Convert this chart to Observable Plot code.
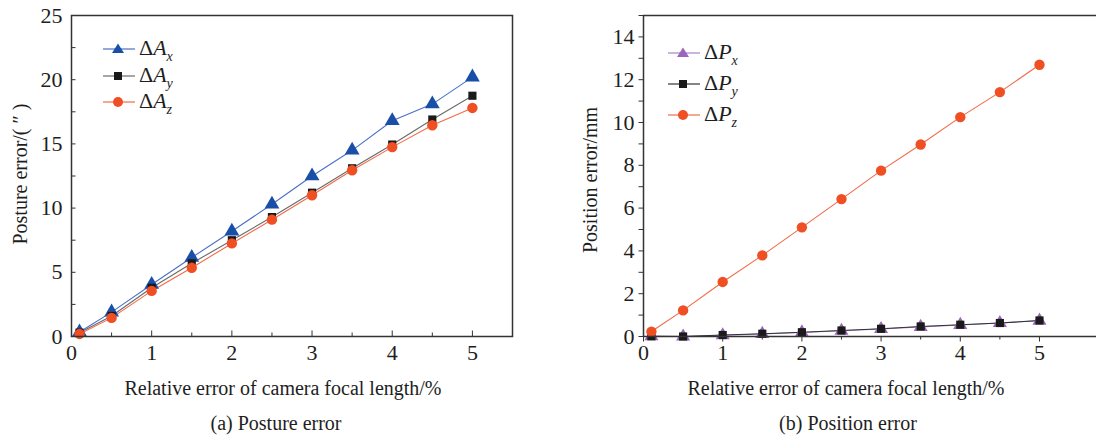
<!DOCTYPE html>
<html><head><meta charset="utf-8">
<script src="https://cdn.jsdelivr.net/npm/d3@7"></script>
<script src="https://cdn.jsdelivr.net/npm/@observablehq/plot@0.6"></script>
<style>
body{margin:0;background:#fff;width:1096px;height:439px;overflow:hidden;position:relative;font-family:"Times New Roman","Liberation Serif","DejaVu Serif",serif;color:#1e1e1e}
.chart{position:absolute;top:0}
.lbl{position:absolute;font-size:20px;white-space:nowrap;transform:translate(-50%,-50%)}
.ylbl{position:absolute;font-size:20px;white-space:nowrap;transform:translate(-50%,-50%) rotate(-90deg)}
.leg{position:absolute;font-size:22px;line-height:1}
.leg .row{position:absolute;white-space:nowrap;height:26px}
.leg svg{position:absolute;left:0;top:0;overflow:visible}
.leg span{position:absolute;top:-12px}
.leg sub{font-size:14px;vertical-align:-6px;font-style:italic}
</style>
</head><body>
<div id="left" class="chart" style="left:0"></div>
<div id="right" class="chart" style="left:548px"></div>
<script>
// ---- data ----
const focal = [0.1, 0.5, 1, 1.5, 2, 2.5, 3, 3.5, 4, 4.5, 5];
const dAx = [0.35, 1.9, 4.05, 6.15, 8.2, 10.3, 12.5, 14.5, 16.8, 18.1, 20.2];
const dAy = [0.3, 1.6, 3.8, 5.7, 7.5, 9.3, 11.2, 13.1, 14.95, 16.9, 18.75];
const dAz = [0.2, 1.45, 3.55, 5.35, 7.25, 9.1, 11.0, 12.95, 14.75, 16.45, 17.8];
const dPx = [0.01, 0.0, 0.06, 0.12, 0.19, 0.27, 0.35, 0.45, 0.54, 0.63, 0.74];
const dPy = [0.01, 0.0, 0.07, 0.13, 0.2, 0.28, 0.36, 0.47, 0.55, 0.63, 0.75];
const dPz = [0.23, 1.22, 2.55, 3.79, 5.1, 6.42, 7.75, 8.97, 10.25, 11.42, 12.7];
const leftSeries = [
  {name: "x", values: dAx, symbol: "triangle", fill: "#1a4fa8", stroke: "#4a6fc8", r: 5.5},
  {name: "y", values: dAy, symbol: "square", fill: "#1a1a1a", stroke: "#6a6a6a", r: 4.6},
  {name: "z", values: dAz, symbol: "circle", fill: "#f04e23", stroke: "#f26a48", r: 5.2}
];
const rightSeries = [
  {name: "x", values: dPx, symbol: "triangle", fill: "#9a66bb", stroke: "#a883cc", r: 5.2},
  {name: "y", values: dPy, symbol: "square", fill: "#1a1a1a", stroke: "#333333", r: 4.6},
  {name: "z", values: dPz, symbol: "circle", fill: "#f04e23", stroke: "#f26a48", r: 5.2}
];
const leftYTicks = [0, 5, 10, 15, 20, 25];
const rightYTicks = [0, 2, 4, 6, 8, 10, 12, 14];
const xTicks = [0, 1, 2, 3, 4, 5];
const xHalfTicks = [0.5, 1.5, 2.5, 3.5, 4.5];

function seriesMarks(series) {
  const marks = [];
  for (const s of series) {
    const d = focal.map((f, i) => ({x: f, y: s.values[i]}));
    marks.push(Plot.line(d, {x: "x", y: "y", stroke: s.stroke, strokeWidth: 1.1}));
  }
  for (const s of series) {
    const d = focal.map((f, i) => ({x: f, y: s.values[i]}));
    marks.push(Plot.dot(d, {x: "x", y: "y", symbol: () => s.symbol, fill: s.fill, r: s.r, stroke: "none"}));
  }
  return marks;
}
const fmt = d => String(d);
const none = () => "";
const style = {fontFamily: "Times New Roman, Liberation Serif, DejaVu Serif, serif", fontSize: "22px", color: "#1e1e1e", background: "transparent", overflow: "visible"};

const left = Plot.plot({
  width: 548, height: 439,
  marginLeft: 71, marginRight: 36, marginTop: 15, marginBottom: 103,
  style,
  x: {domain: [0, 5.5]},
  y: {domain: [0, 25]},
  symbol: {type: "identity"},
  marks: [
    Plot.axisY({ticks: leftYTicks, tickFormat: fmt, tickSize: 0, tickPadding: 9, label: null}),
    Plot.axisY({ticks: d3.range(0, 25.01, 2.5), tickSize: -4.5, tickFormat: none, label: null, stroke: "#333"}),
    Plot.axisX({ticks: xTicks, tickFormat: fmt, tickSize: 0, tickPadding: 8, label: null}),
    Plot.axisX({ticks: xTicks, tickSize: -5.5, tickFormat: none, label: null, stroke: "#333"}),
    Plot.axisX({ticks: xHalfTicks, tickSize: -3.5, tickFormat: none, label: null, stroke: "#333"}),
    ...seriesMarks(leftSeries),
    Plot.frame({stroke: "#333", strokeWidth: 1.5})
  ]
});
document.getElementById("left").appendChild(left);

const right = Plot.plot({
  width: 548, height: 439,
  marginLeft: 95, marginRight: 0, marginTop: 15, marginBottom: 103,
  style,
  x: {domain: [0, 5.72]},
  y: {domain: [0, 15]},
  symbol: {type: "identity"},
  marks: [
    Plot.axisY({ticks: rightYTicks, tickFormat: fmt, tickSize: 0, tickPadding: 9, label: null}),
    Plot.axisY({ticks: d3.range(0, 15.01, 1), tickSize: 4.5, tickFormat: none, label: null, stroke: "#333"}),
    Plot.axisX({ticks: xTicks, tickFormat: fmt, tickSize: 0, tickPadding: 8, label: null}),
    Plot.axisX({ticks: xTicks, tickSize: 5.5, tickFormat: none, label: null, stroke: "#333"}),
    Plot.axisX({ticks: xHalfTicks, tickSize: 3.5, tickFormat: none, label: null, stroke: "#333"}),
    ...seriesMarks(rightSeries),
    Plot.ruleX([0], {stroke: "#333", strokeWidth: 1.5}),
    Plot.ruleY([0, 15], {stroke: "#333", strokeWidth: 1.5})
  ]
});
document.getElementById("right").appendChild(right);

// ---- text labels ----
function addText(cls, html, x, y) {
  const d = document.createElement("div");
  d.className = cls; d.innerHTML = html;
  d.style.left = x + "px"; d.style.top = y + "px";
  document.body.appendChild(d);
}
addText("lbl", "Relative error of camera focal length/%", 283, 388);
addText("lbl", "(a) Posture error", 276, 423);
addText("lbl", "Relative error of camera focal length/%", 846, 388);
addText("lbl", "(b) Position error", 848, 423);
addText("ylbl", "Posture error/( \u2033 )", 20, 174);
addText("ylbl", "Position error/mm", 590, 180);

// ---- legends ----
function legend(series, letter, x0, ys) {
  const box = document.createElement("div");
  box.className = "leg"; box.style.left = x0 + "px"; box.style.top = "0px";
  series.forEach((s, i) => {
    const row = document.createElement("div");
    row.className = "row"; row.style.left = "0px"; row.style.top = ys[i] + "px";
    const sym = s.symbol === "triangle"
      ? `<path d="M15,-5.5 L21,4 L9,4 Z" fill="${s.fill}"/>`
      : s.symbol === "square"
      ? `<rect x="11" y="-4" width="8" height="8" fill="${s.fill}"/>`
      : `<circle cx="15" cy="0" r="5" fill="${s.fill}"/>`;
    row.innerHTML = `<svg width="34" height="2"><line x1="0" x2="32" y1="0" y2="0" stroke="${s.stroke}" stroke-width="1.2"/>${sym}</svg>` +
      `<span style="left:36px">\u0394<i>${letter}</i><sub>${s.name}</sub></span>`;
    box.appendChild(row);
  });
  document.body.appendChild(box);
}
legend(leftSeries, "A", 103, [49, 76, 102]);
legend(rightSeries, "P", 668, [53, 84, 115]);
</script>
</body></html>
